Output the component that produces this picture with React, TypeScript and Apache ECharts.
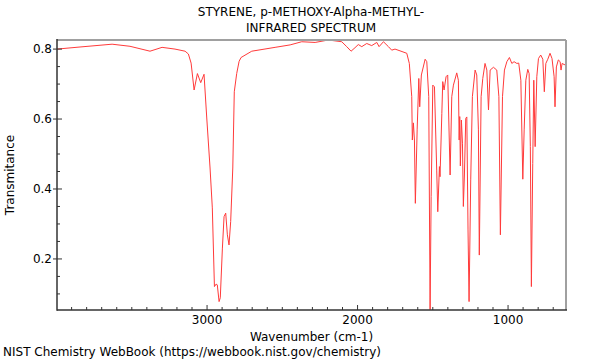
import React, { useEffect, useRef } from "react";
import * as echarts from "echarts";

const titleLines = ["STYRENE, p-METHOXY-Alpha-METHYL-", "INFRARED SPECTRUM"];
const xLabelValues = [1000, 2000, 3000];
const yLabelValues = [0.2, 0.4, 0.6, 0.8];

const wavenumbers = [
  3997, 3844, 3631, 3512, 3379, 3299, 3213, 3146, 3124, 3106, 3086, 3064, 3042, 3020, 3002,
  2980, 2965, 2951, 2940, 2932, 2920, 2912, 2898, 2887, 2876, 2865, 2854, 2843, 2829, 2819,
  2803, 2787, 2774, 2703, 2548, 2448, 2371, 2282, 2194, 2105, 2072, 2043, 2017, 1995, 1972,
  1939, 1906, 1872, 1857, 1828, 1795, 1773, 1751, 1718, 1673, 1656, 1640, 1636, 1629, 1622,
  1616, 1604, 1593, 1587, 1576, 1551, 1540, 1527, 1518, 1511, 1500, 1489, 1474, 1467, 1456,
  1452, 1440, 1434, 1425, 1412, 1401, 1385, 1374, 1363, 1341, 1330, 1325, 1321, 1317, 1310,
  1303, 1297, 1290, 1281, 1274, 1266, 1259, 1248, 1237, 1219, 1208, 1197, 1191, 1179, 1168,
  1153, 1141, 1130, 1119, 1097, 1075, 1061, 1051, 1037, 1024, 1008, 991, 975, 960, 942,
  929, 915, 902, 893, 882, 869, 860, 852, 845, 836, 829, 820, 809, 798, 783,
  769, 759, 749, 736, 721, 708, 694, 688, 679, 666, 654, 648, 641, 628, 615,
];

const transmittance = [
  0.800, 0.806, 0.814, 0.808, 0.794, 0.805, 0.800, 0.794, 0.786, 0.760, 0.683, 0.730, 0.704, 0.728, 0.603,
  0.460, 0.346, 0.121, 0.128, 0.126, 0.078, 0.089, 0.231, 0.321, 0.331, 0.269, 0.240, 0.307, 0.460, 0.678,
  0.730, 0.765, 0.776, 0.794, 0.805, 0.812, 0.821, 0.819, 0.826, 0.821, 0.807, 0.794, 0.804, 0.813, 0.807,
  0.816, 0.810, 0.819, 0.807, 0.821, 0.807, 0.797, 0.800, 0.795, 0.788, 0.759, 0.664, 0.540, 0.589, 0.540,
  0.359, 0.569, 0.716, 0.635, 0.726, 0.771, 0.764, 0.664, 0.055, 0.378, 0.697, 0.692, 0.454, 0.335, 0.464,
  0.435, 0.616, 0.707, 0.683, 0.721, 0.726, 0.440, 0.664, 0.697, 0.732, 0.711, 0.540, 0.607, 0.466, 0.597,
  0.531, 0.350, 0.440, 0.602, 0.606, 0.283, 0.078, 0.426, 0.664, 0.740, 0.726, 0.569, 0.211, 0.664, 0.716,
  0.759, 0.740, 0.626, 0.740, 0.748, 0.740, 0.664, 0.269, 0.664, 0.740, 0.764, 0.776, 0.759, 0.764, 0.759,
  0.760, 0.711, 0.428, 0.569, 0.711, 0.742, 0.730, 0.521, 0.121, 0.473, 0.711, 0.521, 0.721, 0.773, 0.783,
  0.771, 0.678, 0.759, 0.771, 0.788, 0.773, 0.721, 0.635, 0.749, 0.769, 0.764, 0.740, 0.759, 0.756, 0.754,
];

const xMinorValues: number[] = [];
for (let v = 700; v <= 3900; v += 100) if (v % 1000 !== 0) xMinorValues.push(v);
const yMinorValues = [0.1, 0.15, 0.25, 0.3, 0.35, 0.45, 0.5, 0.55, 0.65, 0.7, 0.75];

const FONT = "DejaVu Sans";

export default function App() {
  const ref = useRef<HTMLDivElement>(null);
  useEffect(() => {
    if (!ref.current) return;
    const chart = echarts.init(ref.current, null, { renderer: "svg" });
    const data = wavenumbers.map((w, i) => [w, transmittance[i]]);
    const xMin = 615;
    const xMax = 3997;
    const yMin = 0.054;
    const yMax = 0.826;
    const axisColor = "#333";
    const footer = {
      id: "footer",
      type: "text",
      left: 3,
      top: 346,
      style: {
        text: "NIST Chemistry WebBook (https://webbook.nist.gov/chemistry)",
        fontFamily: FONT,
        fontSize: 12,
        fill: "#000",
      },
    };
    chart.setOption({
      animation: false,
      backgroundColor: "#fff",
      textStyle: { fontFamily: FONT },
      title: [
        {
          text: titleLines.join("\n"),
          left: 311,
          top: 4,
          padding: 0,
          textAlign: "center",
          textStyle: { fontFamily: FONT, fontSize: 12, fontWeight: "normal", color: "#000", lineHeight: 16 },
        },
      ],
      graphic: [footer],
      grid: {
        left: 57,
        right: 34,
        top: 40,
        bottom: 50,
        show: false,
        containLabel: false,
        outerBoundsMode: "none",
      },
      xAxis: {
        type: "value",
        inverse: true,
        min: xMin,
        max: xMax,
        name: "Wavenumber (cm-1)",
        nameLocation: "middle",
        nameGap: 18,
        nameTextStyle: { fontFamily: FONT, fontSize: 12, color: "#000" },
        axisLine: { show: false },
        axisTick: { show: false },
        axisLabel: {
          customValues: xLabelValues,
          formatter: (v: number) => String(v),
          fontFamily: FONT,
          fontSize: 12,
          color: "#000",
          margin: 4,
        },
        splitLine: { show: false },
      },
      yAxis: {
        type: "value",
        min: yMin,
        max: yMax,
        name: "Transmitance",
        nameLocation: "middle",
        nameGap: 41,
        nameTextStyle: { fontFamily: FONT, fontSize: 12, color: "#000" },
        axisLine: { show: false },
        axisTick: { show: false },
        axisLabel: { customValues: yLabelValues, fontFamily: FONT, fontSize: 12, color: "#000", margin: 5 },
        splitLine: { show: false },
      },
      series: [
        {
          type: "line",
          data,
          showSymbol: false,
          symbol: "none",
          lineStyle: { color: "#ff3a3a", width: 1 },
          clip: true,
          z: 2,
        },
      ],
    });

    const toPx = (x: number, y: number) =>
      chart.convertToPixel({ xAxisIndex: 0, yAxisIndex: 0 }, [x, y]) as number[];
    const [xl, yb] = toPx(xMax, yMin);
    const [xr, yt] = toPx(xMin, yMax);
    const seg = (id: string, x1: number, y1: number, x2: number, y2: number, stroke: string, w: number, z = 5) => ({
      id,
      type: "line",
      silent: true,
      z,
      shape: { x1, y1, x2, y2 },
      style: { stroke, lineWidth: w },
    });
    const els: any[] = [footer];
    els.push(seg("top", xl, yt, xr, yt, "#a0a0a0", 2, 4));
    els.push(seg("right", xr, yt, xr, yb, "#a0a0a0", 2, 4));
    els.push(seg("left", xl, yt - 1, xl, yb + 0.75, axisColor, 1.5));
    els.push(seg("bottom", xl, yb, xr + 1, yb, axisColor, 1.5));
    xLabelValues.forEach((v) => {
      const [px] = toPx(v, yMin);
      els.push(seg("xmaj" + v, px, yb, px, yb - 5, axisColor, 1));
    });
    xMinorValues.forEach((v) => {
      const [px] = toPx(v, yMin);
      els.push(seg("xmin" + v, px, yb, px, yb - 3, axisColor, 1));
    });
    yLabelValues.forEach((v) => {
      const [, py] = toPx(xMax, v);
      els.push(seg("ymaj" + v, xl - 4, py, xl + 5, py, axisColor, 1));
    });
    yMinorValues.forEach((v) => {
      const [, py] = toPx(xMax, v);
      els.push(seg("ymin" + v, xl, py, xl + 3, py, axisColor, 1));
    });
    chart.setOption({ graphic: els });
    return () => chart.dispose();
  }, []);
  return <div ref={ref} style={{ position: "fixed", left: 0, top: 0, width: 600, height: 360 }} />;
}
